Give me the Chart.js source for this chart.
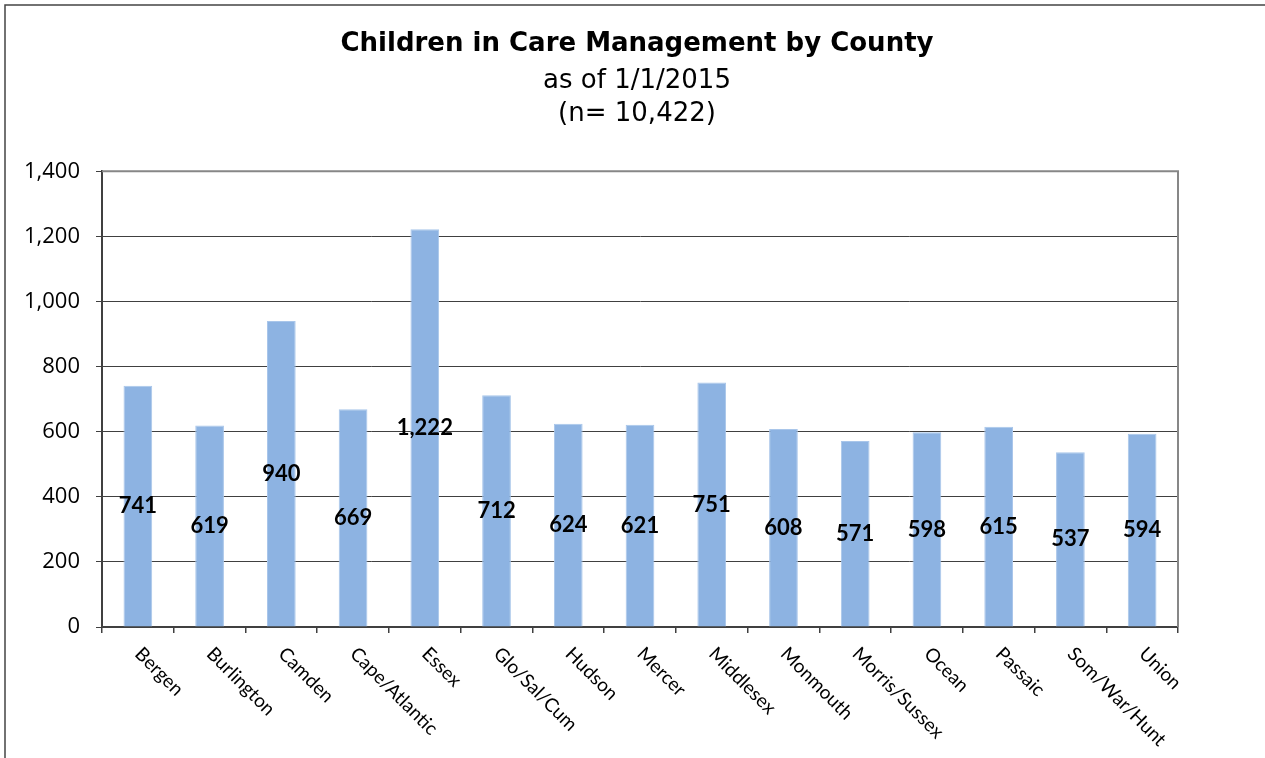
<!DOCTYPE html>
<html>
<head>
<meta charset="utf-8">
<script src="https://cdn.jsdelivr.net/npm/chart.js@4.4.0/dist/chart.umd.min.js"></script>
<style>
  html, body { margin: 0; padding: 0; background: #fff; }
  #wrap { width: 1265px; height: 758px; }
</style>
</head>
<body>
<div id="wrap"><canvas id="myChart" width="1265" height="758"></canvas></div>
<script>
const counties = ['Bergen', 'Burlington', 'Camden', 'Cape/Atlantic', 'Essex', 'Glo/Sal/Cum', 'Hudson',
    'Mercer', 'Middlesex', 'Monmouth', 'Morris/Sussex', 'Ocean', 'Passaic', 'Som/War/Hunt', 'Union'];
const children = [741, 619, 940, 669, 1222, 712, 624, 621, 751, 608, 571, 598, 615, 537, 594];
const yTicks = [0, 200, 400, 600, 800, 1000, 1200, 1400];

const labelFont = 'Lato, "Open Sans", sans-serif';
const titleFont = '"DejaVu Sans", "Liberation Sans", Arial, sans-serif';

// outer frame, top/right plot border, rotated county labels
const framePlugin = {
    id: 'frame',
    beforeDraw(chart) {
        const ctx = chart.ctx;
        ctx.save();
        ctx.fillStyle = '#fff';
        ctx.fillRect(0, 0, chart.width, chart.height);
        ctx.strokeStyle = '#444';
        ctx.lineWidth = 1.5;
        ctx.strokeRect(5, 5, chart.width + 50, chart.height + 50);
        ctx.restore();
    },
    afterDraw(chart) {
        const ctx = chart.ctx;
        const area = chart.chartArea;
        const x = chart.scales.x;
        ctx.save();
        ctx.strokeStyle = '#878787';
        ctx.lineWidth = 2;
        ctx.beginPath();
        ctx.moveTo(area.left, area.top);
        ctx.lineTo(area.right, area.top);
        ctx.lineTo(area.right, area.bottom);
        ctx.stroke();

        ctx.fillStyle = '#000';
        ctx.font = '19px ' + labelFont;
        ctx.textAlign = 'left';
        ctx.textBaseline = 'top';
        counties.forEach((name, i) => {
            const px = x.getPixelForValue(i);
            ctx.save();
            ctx.translate(px + 7, area.bottom + 17);
            ctx.rotate(Math.PI / 4);
            ctx.fillText(name, 0, 0);
            ctx.restore();
        });
        ctx.restore();
    }
};

const valuePlugin = {
    id: 'values',
    afterDatasetsDraw(chart) {
        const ctx = chart.ctx;
        const meta = chart.getDatasetMeta(0);
        ctx.save();
        ctx.fillStyle = '#000';
        ctx.font = 'bold 22px ' + labelFont;
        ctx.textAlign = 'center';
        ctx.textBaseline = 'middle';
        meta.data.forEach((bar, i) => {
            const y = (bar.y + bar.base) / 2;
            ctx.fillText(children[i].toLocaleString('en-US'), bar.x, y);
        });
        ctx.restore();
    }
};

const ctx = document.getElementById('myChart').getContext('2d');
const myChart = new Chart(ctx, {
    type: 'bar',
    data: {
        labels: counties,
        datasets: [{
            data: children,
            backgroundColor: '#8DB3E2',
            borderColor: '#A9C6EA',
            borderWidth: 1,
            categoryPercentage: 1,
            barPercentage: 0.4
        }]
    },
    options: {
        responsive: false,
        animation: false,
        layout: {
            padding: {left: 9, right: 0, top: 0, bottom: 0}
        },
        plugins: {
            legend: {display: false},
            tooltip: {enabled: false},
            title: {
                display: true,
                text: 'Children in Care Management by County',
                color: '#000',
                font: {family: titleFont, size: 26, weight: 'bold', lineHeight: 1.2},
                padding: {top: 29, bottom: 2}
            },
            subtitle: {
                display: true,
                text: ['as of 1/1/2015', '(n= 10,422)'],
                color: '#000',
                font: {family: titleFont, size: 26, lineHeight: 1.27},
                padding: {top: 3, bottom: 40}
            }
        },
        scales: {
            x: {
                grid: {
                    drawOnChartArea: false,
                    offset: true,
                    tickLength: 6,
                    color: '#404040',
                    lineWidth: 1.5
                },
                border: {display: true, color: '#404040', width: 2},
                ticks: {display: false},
                afterFit(scale) { scale.height = 131; }
            },
            y: {
                min: 0,
                max: 1400,
                afterBuildTicks(scale) {
                    scale.ticks = yTicks.map(v => ({value: v}));
                },
                grid: {
                    color: '#404040',
                    lineWidth: 1,
                    tickLength: 6
                },
                border: {display: true, color: '#404040', width: 2},
                ticks: {
                    color: '#000',
                    padding: 16,
                    font: {family: '"Open Sans", Lato, sans-serif', size: 22},
                    callback: v => v.toLocaleString('en-US')
                },
                afterFit(scale) { scale.width = 93; }
            },
            // empty right margin so the title centres like the original
            spacer: {
                type: 'linear',
                position: 'right',
                display: true,
                grid: {display: false},
                border: {display: false},
                ticks: {display: false},
                afterFit(scale) { scale.width = 87; }
            }
        }
    },
    plugins: [framePlugin, valuePlugin]
});
</script>
</body>
</html>
